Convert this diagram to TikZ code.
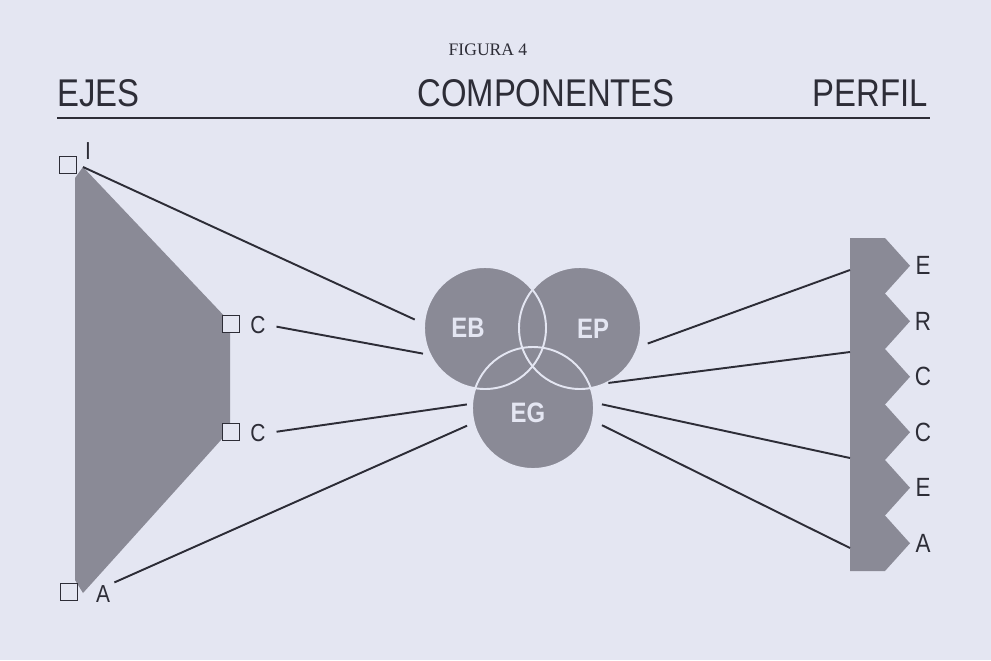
\documentclass[tikz,border=0pt]{standalone}
\usepackage{fontspec}
\newfontfamily\pixfont[FakeStretch=0.85]{Liberation Sans}
\newfontfamily\figfont{Liberation Serif}

\definecolor{paper}{RGB}{228,230,242}
\definecolor{hatch}{RGB}{138,138,150}
\definecolor{ink}{RGB}{45,45,55}

\tikzset{
  box/.style={draw=ink, line width=0.9pt, fill=paper, minimum size=0.34cm, inner sep=0pt},
  tag/.style={font=\pixfont\fontsize{14}{14}\selectfont, text=ink, inner sep=1pt},
  bigtag/.style={font=\pixfont\fontsize{15}{15}\selectfont, text=ink, inner sep=1pt},
  headline/.style={font=\pixfont\fontsize{22}{22}\selectfont, text=ink, inner sep=0pt},
  wire/.style={draw=ink, line width=1.1pt},
  blob/.style={circle, fill=hatch, minimum size=2.44cm, inner sep=0pt},
  blobtag/.style={font=\pixfont\bfseries\fontsize{16}{16}\selectfont, text=paper, inner sep=0pt},
}

\begin{document}
\begin{tikzpicture}[x=0.02cm, y=-0.02cm]
    % paper
    \fill[paper] (0,0) rectangle (991,660);

    % headings
    \node[font=\figfont\fontsize{10}{10}\selectfont, text=ink] (fig) at (488,50) {FIGURA 4};
    \node[headline, anchor=base west] (ejes) at (57,106) {EJES};
    \node[headline, anchor=base west] (comp) at (417,106) {COMPONENTES};
    \node[headline, anchor=base east] (perf) at (928,106) {PERFIL};
    \draw[ink, line width=1.2pt] (57,118) -- (930,118);

    % axes shape
    \coordinate (topI) at (83,167);
    \coordinate (botA) at (83,593);
    \fill[hatch] (75,178) -- (topI) -- (230,322) -- (230,430) -- (botA) -- (75,580) -- cycle;

    \node[box] (sqI) at (68,165) {};
    \node[box] (sqC1) at (231,324) {};
    \node[box] (sqC2) at (231,432) {};
    \node[box] (sqA) at (69,592) {};
    \node[tag] (li) at (88,151) {I};
    \node[tag] (lc1) at (258,325) {C};
    \node[tag] (lc2) at (258,433) {C};
    \node[tag] (la) at (103,594) {A};

    % components
    \node[blob] (eb) at (485,328) {};
    \node[blob] (ep) at (580,328) {};
    \node[blob] (eg) at (533,408) {};
    \foreach \c in {eb,ep,eg}
        \draw[paper, line width=1.1pt] (\c.center) circle[radius=61];
    \node[blobtag] (teb) at (468,328) {EB};
    \node[blobtag] (tep) at (593,329) {EP};
    \node[blobtag] (teg) at (528,413) {EG};

    % profile bar
    \fill[hatch] (850,238) \foreach \i in {0,...,5} {
        -- (885,{238+55.5*\i}) -- (910,{265.75+55.5*\i})} -- (885,571) -- (850,571) -- cycle;
    \foreach \t [count=\i from 0] in {E,R,C,C,E,A}
        \node[bigtag] (p\i) at (923,{265.75+55.5*\i}) {\t};
    \coordinate (b1) at (850,270);
    \coordinate (b2) at (850,352);
    \coordinate (b3) at (850,458);
    \coordinate (b4) at (850,548);

    % connectors left
    \draw[wire, shorten >=0.2cm] (topI) -- (eb.176);
    \draw[wire, shorten <=0.18cm, shorten >=0.14cm] (lc1.east) -- (eb.206);
    \draw[wire, shorten <=0.18cm, shorten >=0.1cm] (lc2.east) -- (eg.176);
    \draw[wire, shorten <=0.05cm, shorten >=0.14cm] (la.north east) -- (eg.194);

    % connectors right
    \draw[wire, shorten <=0.2cm] (ep.342) -- (b1);
    \draw[wire, shorten <=0.03cm] (ep.296) -- (b2);
    \draw[wire, shorten <=0.16cm] (eg.5) -- (b3);
    \draw[wire, shorten <=0.2cm] (eg.348) -- (b4);
\end{tikzpicture}
\end{document}
